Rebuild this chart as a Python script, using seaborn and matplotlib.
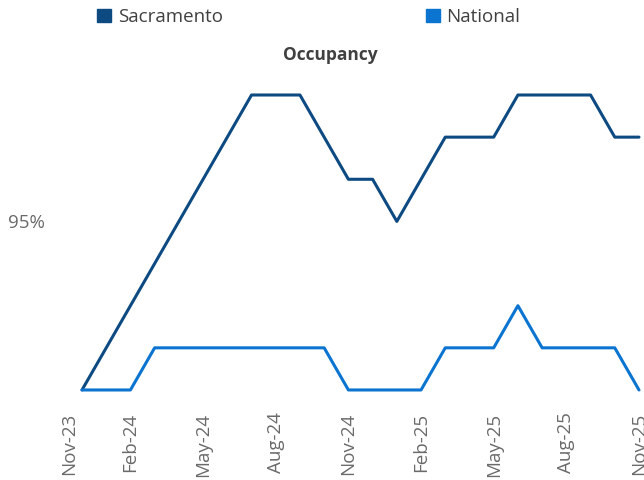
import numpy as np
import pandas as pd
import matplotlib
matplotlib.use("Agg")
import matplotlib.pyplot as plt
import matplotlib.transforms as mtrans
from matplotlib.patches import Patch
import seaborn as sns

# monthly occupancy (%), 0.5 pt steps
sacramento = [93.0, 93.5, 94.0, 94.5, 95.0, 95.5, 96.0, 96.5, 96.5, 96.5, 96.0, 95.5,
              95.5, 95.0, 95.5, 96.0, 96.0, 96.0, 96.5, 96.5, 96.5, 96.5, 96.0, 96.0]
national = [93.0, 93.0, 93.0, 93.5, 93.5, 93.5, 93.5, 93.5, 93.5, 93.5, 93.5, 93.0,
            93.0, 93.0, 93.0, 93.5, 93.5, 93.5, 94.0, 93.5, 93.5, 93.5, 93.5, 93.0]
tick_pos = [0, 2, 5, 8, 11, 14, 17, 20, 23]
tick_labels = ["Nov-23", "Feb-24", "May-24", "Aug-24", "Nov-24",
               "Feb-25", "May-25", "Aug-25", "Nov-25"]

colors = {"Sacramento": "#0D4A82", "National": "#0A74D0"}
grey = "#6A6A6A"

n = len(sacramento)
df = pd.DataFrame({
    "month": list(range(n)) * 2,
    "occupancy": sacramento + national,
    "market": ["Sacramento"] * n + ["National"] * n,
})

sns.set_style("white")
plt.rcParams["font.family"] = ["Open Sans", "DejaVu Sans"]

fig = plt.figure(figsize=(6.44, 4.8), dpi=100)
ax = fig.add_axes([82 / 644, 80 / 480, 557 / 644, 320 / 480])

sns.lineplot(data=df, x="month", y="occupancy", hue="market", palette=colors,
             linewidth=2.2, legend=False, ax=ax, clip_on=False)

ax.set_xlim(0, n - 1)
ax.set_ylim(92.881, 96.678)
ax.set_xticks(tick_pos)
ax.set_xticklabels(tick_labels, rotation=90, color=grey, fontsize=13.5)
ax.set_xticks(range(n), minor=True)
ax.tick_params(axis="x", which="both", length=3, color="#E3E3E3", pad=6)
ax.set_yticks([95])
ax.set_yticklabels(["95%"], color=grey, fontsize=13.5)
ax.tick_params(axis="y", length=0, pad=26.6)
ax.set_xlabel("")
ax.set_ylabel("")
for s in ax.spines.values():
    s.set_visible(False)

# first label sits a bit left of its tick in the original
first = ax.get_xticklabels()[0]
first.set_transform(first.get_transform() +
                    mtrans.ScaledTranslation(-0.13, 0, fig.dpi_scale_trans))

fig.text(330 / 644, 1 - 55 / 480, "Occupancy", ha="center", va="center",
         fontsize=12.5, fontweight="bold", color="#404040")

for name, xpos in [("Sacramento", 97 / 644), ("National", 426 / 644)]:
    fig.legend(handles=[Patch(color=colors[name], label=name)],
               loc="center left", bbox_to_anchor=(xpos, 1 - 17 / 480),
               frameon=False, fontsize=13.5, handlelength=0.75, handleheight=0.75,
               handletextpad=0.35, borderpad=0, borderaxespad=0,
               labelcolor="#404040")

fig.savefig("out.png", dpi=100)
